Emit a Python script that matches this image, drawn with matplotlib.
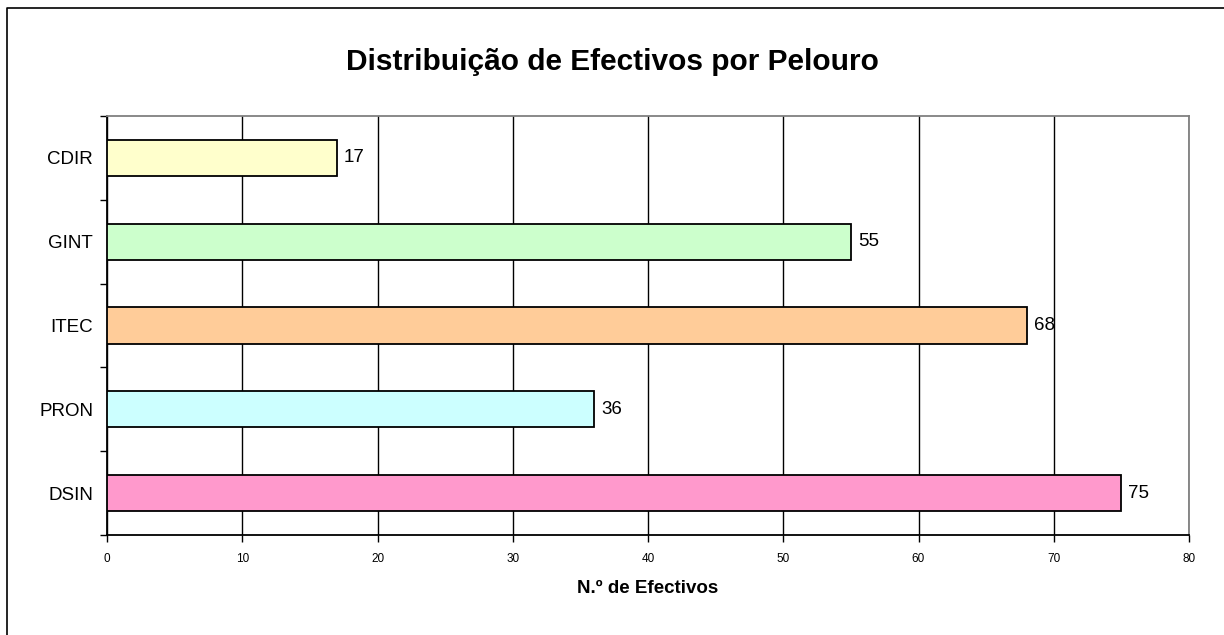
import matplotlib
matplotlib.use("Agg")
import matplotlib.pyplot as plt
from matplotlib.lines import Line2D
import numpy as np

categories = ["DSIN", "PRON", "ITEC", "GINT", "CDIR"]
values = [75, 36, 68, 55, 17]
colors = ["#FF99CC", "#CCFFFF", "#FFCC99", "#CCFFCC", "#FFFFCC"]
xticks = [0, 10, 20, 30, 40, 50, 60, 70, 80]

plt.rcParams['font.family'] = ['Liberation Sans', 'DejaVu Sans']

fig = plt.figure(figsize=(12.24, 6.35), dpi=100)
# outer chart-area border (only top and left visible in the crop)
fig.lines.append(Line2D([6.5/1224, 6.5/1224, 1.0], [0.0, 1 - 8/635, 1 - 8/635],
                        transform=fig.transFigure, color='black', linewidth=1.2))
ax = fig.add_axes([107/1224, 1-535/635, (1189-107)/1224, (535-116)/635])

y = np.arange(len(categories))
bars = ax.barh(y, values, height=0.43, color=colors, edgecolor='black', linewidth=1.3, zorder=3)
for yi, v in zip(y, values):
    ax.annotate(str(v), (v, yi), xytext=(5, 0), textcoords='offset points',
                va='center', ha='left', fontsize=13.5, zorder=4)

ax.set_xlim(0, 80)
ax.set_ylim(-0.5, len(categories) - 0.5)
ax.set_xticks(xticks)
ax.set_xticklabels([str(t) for t in xticks], fontsize=8.5)
ax.set_yticks(y)
ax.set_yticklabels(categories, fontsize=13.5)
ax.tick_params(axis='y', length=0, pad=10)
ax.set_yticks(np.arange(len(categories) + 1) - 0.5, minor=True)
ax.tick_params(axis='y', which='minor', length=5, width=1, direction='out')
ax.tick_params(axis='x', length=5, width=1, direction='out', pad=8)
ax.xaxis.grid(True, color='black', linewidth=1, zorder=0)
ax.set_axisbelow(True)
for s in ['left', 'bottom']:
    ax.spines[s].set_color('black')
    ax.spines[s].set_linewidth(1.3)
for s in ['top', 'right']:
    ax.spines[s].set_color('#808080')
    ax.spines[s].set_linewidth(1.3)

ax.set_xlabel("N.º de Efectivos", fontsize=13.5, fontweight='bold', labelpad=11)
fig.text(0.5, 1 - 62/635, "Distribuição de Efectivos por Pelouro", ha='center', va='center',
         fontsize=21.5, fontweight='bold')

fig.savefig("out.png", dpi=100)
